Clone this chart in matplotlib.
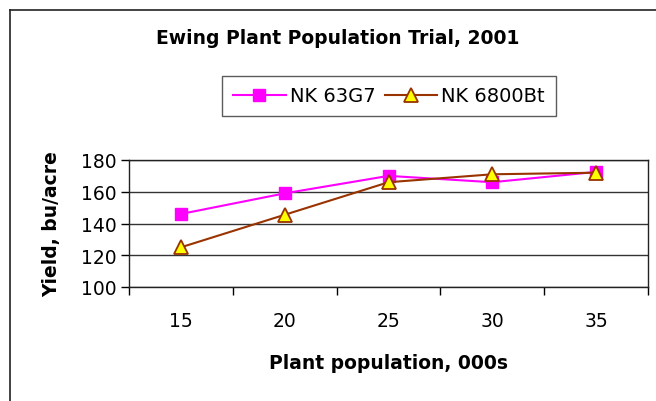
import matplotlib.pyplot as plt
from matplotlib.lines import Line2D

plt.rcParams['font.family'] = ['DejaVu Sans']

populations = ['15', '20', '25', '30', '35']
nk_63g7 = [146, 159, 170, 166, 172.5]
nk_6800bt = [125, 145.5, 166, 171, 172]

fig = plt.figure(figsize=(6.56, 4.02), dpi=100)
ax = fig.add_axes([129 / 656, 1 - 288 / 402, (648 - 129) / 656, (288 - 161) / 402])

x = range(len(populations))
ax.plot(x, nk_63g7, color='#FF00FF', lw=1.5, marker='s', ms=9,
        mfc='#FF00FF', mec='#FF00FF', label='NK 63G7', zorder=3)
ax.plot(x, nk_6800bt, color='#993300', lw=1.5, marker='^', ms=9.5,
        mfc='#FFFF00', mec='#993300', mew=1.3, label='NK 6800Bt', zorder=4)

ax.set_xlim(-0.5, len(populations) - 0.5)
ax.set_ylim(100, 180)
ax.set_yticks([100, 120, 140, 160, 180])
ax.yaxis.grid(True, color='#333333', lw=1)
ax.set_axisbelow(True)

# category axis: labels at centres, tick marks between categories
ax.set_xticks(list(x))
ax.set_xticklabels(populations)
ax.set_xticks([i - 0.5 for i in range(len(populations) + 1)], minor=True)
ax.tick_params(axis='x', which='major', length=0, pad=17, labelsize=13.5)
ax.tick_params(axis='x', which='minor', length=6, width=1, direction='out')
ax.tick_params(axis='y', length=6, width=1, labelsize=13.5, pad=3)

for s in ax.spines.values():
    s.set_color('#222222')
    s.set_linewidth(1)

ax.set_xlabel('Plant population, 000s', fontsize=13.5, fontweight='bold', labelpad=17)
ax.set_ylabel('Yield, bu/acre', fontsize=13.5, fontweight='bold', labelpad=14)

fig.text(338 / 656, 1 - 39 / 402, 'Ewing Plant Population Trial, 2001',
         ha='center', va='center', fontsize=13.5, fontweight='bold')

handles = [
    Line2D([], [], color='#FF00FF', lw=1.5, marker='s', ms=9, mfc='#FF00FF', mec='#FF00FF'),
    Line2D([], [], color='#993300', lw=1.5, marker='^', ms=9.5, mfc='#FFFF00', mec='#993300', mew=1.3),
]
leg = fig.legend(handles, ['NK 63G7', 'NK 6800Bt'], ncol=2, fontsize=14,
                 loc='center', bbox_to_anchor=(389 / 656, 1 - 97 / 402),
                 frameon=True, fancybox=False, edgecolor='#333333',
                 handlelength=2.7, handletextpad=0.2, columnspacing=0.5,
                 borderpad=0.55, borderaxespad=0)
leg.get_frame().set_linewidth(1)

# outer chart border (left and top edges visible)
fig.add_artist(Line2D([9.5 / 656, 9.5 / 656], [0, 1 - 11 / 402], color='#222222', lw=1.2,
                      transform=fig.transFigure))
fig.add_artist(Line2D([9.5 / 656, 1], [1 - 11 / 402, 1 - 11 / 402], color='#222222', lw=1.2,
                      transform=fig.transFigure))

fig.savefig('out.png', dpi=100)
